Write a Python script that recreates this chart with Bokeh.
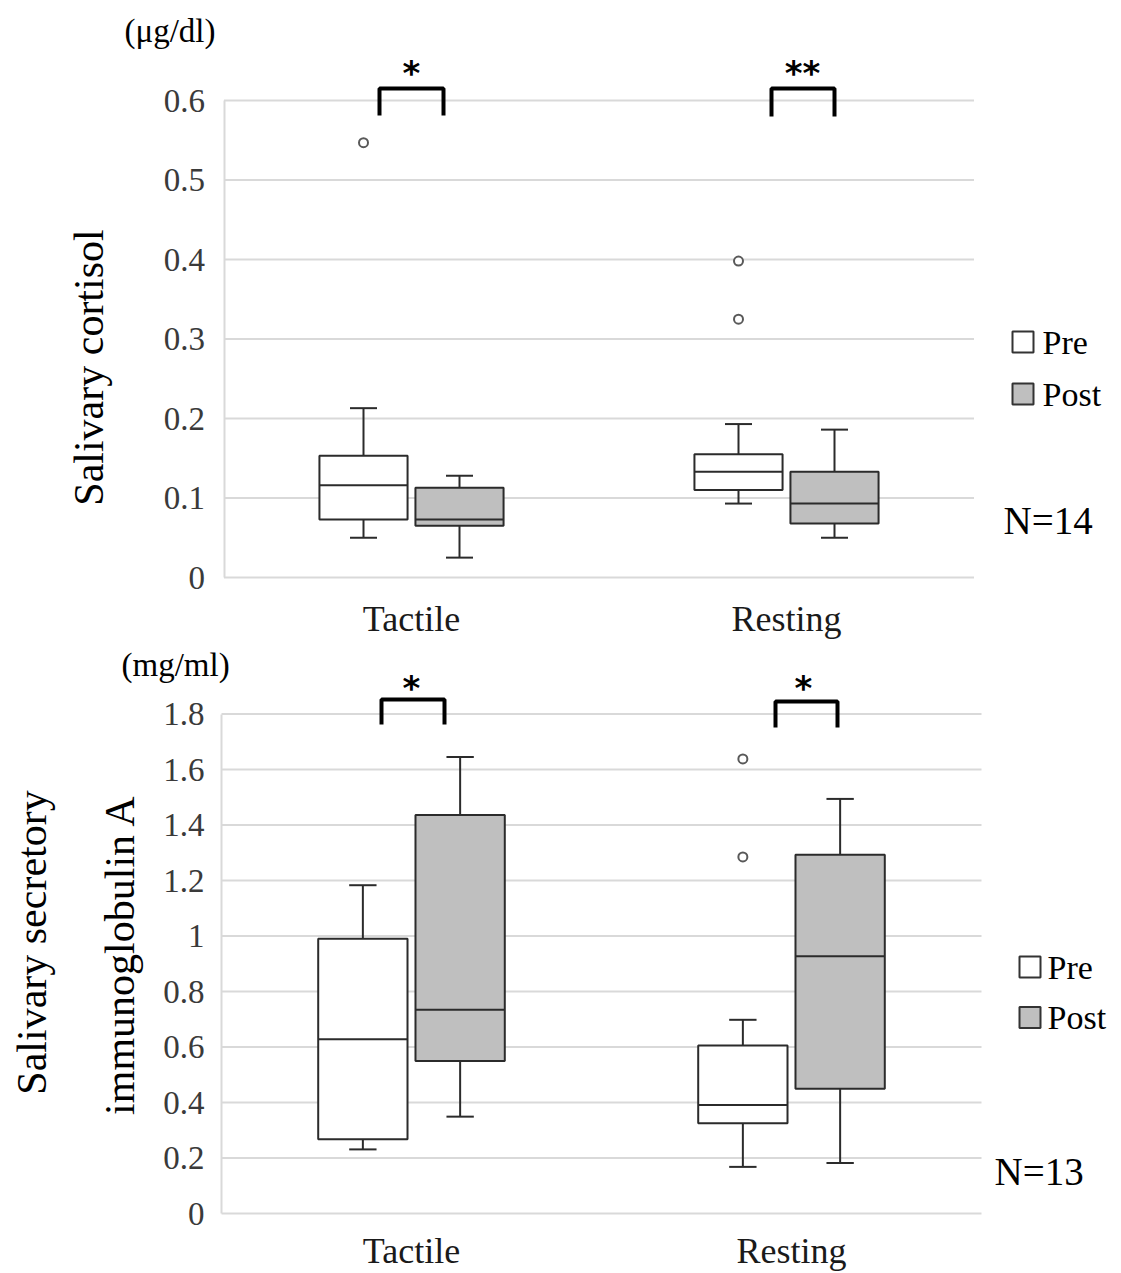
import math
from bokeh.plotting import figure
from bokeh.models import Range1d, FixedTicker
from bokeh.layouts import column
from bokeh.embed import file_html
from bokeh.resources import INLINE
from bokeh.core.properties import value

# ---------------- data ----------------
categories = ["Tactile", "Resting"]
conditions = ["Pre", "Post"]

# Salivary cortisol (µg/dl); box order: Tactile-Pre, Tactile-Post, Resting-Pre, Resting-Post
cort_whisker_low = [0.050, 0.025, 0.093, 0.050]
cort_q1 = [0.073, 0.065, 0.110, 0.068]
cort_median = [0.116, 0.073, 0.133, 0.093]
cort_q3 = [0.153, 0.113, 0.155, 0.133]
cort_whisker_high = [0.213, 0.128, 0.193, 0.186]
cort_outlier_box = [0, 2, 2]
cort_outlier_value = [0.547, 0.398, 0.325]
cort_ticks = [0, 0.1, 0.2, 0.3, 0.4, 0.5, 0.6]
cort_tick_labels = ["0", "0.1", "0.2", "0.3", "0.4", "0.5", "0.6"]
cort_significance = ["*", "**"]
cort_n = "N=14"
cort_unit = "(μg/dl)"
cort_title = ["Salivary cortisol"]

# Salivary secretory immunoglobulin A (mg/ml)
iga_whisker_low = [0.231, 0.349, 0.168, 0.182]
iga_q1 = [0.268, 0.550, 0.325, 0.450]
iga_median = [0.628, 0.734, 0.391, 0.927]
iga_q3 = [0.990, 1.436, 0.605, 1.293]
iga_whisker_high = [1.183, 1.645, 0.698, 1.494]
iga_outlier_box = [2, 2]
iga_outlier_value = [1.638, 1.285]
iga_ticks = [0, 0.2, 0.4, 0.6, 0.8, 1, 1.2, 1.4, 1.6, 1.8]
iga_tick_labels = ["0", "0.2", "0.4", "0.6", "0.8", "1", "1.2", "1.4", "1.6", "1.8"]
iga_significance = ["*", "*"]
iga_n = "N=13"
iga_unit = "(mg/ml)"
iga_title = ["Salivary secretory", "immunoglobulin A"]

# ---------------- styling ----------------
SERIF = "Liberation Serif"
FILL = {"Pre": "#ffffff", "Post": "#bfbfbf"}
EDGE = "#2b2b2b"
GRID = "#d9d9d9"
OFFSETS = [-0.128, 0.128]
BOX_W = 0.235
CAP_W = 0.072
PAGE_W = 1118


def make_panel(d, g):
    top, bottom = g["top"], g["bottom"]
    c0, upc, zero, ppu = g["cat0_x"], g["px_per_cat"], g["zero_y"], g["ppu"]

    def tx(px):
        return (px - c0) / upc + 0.5

    def ty(py):
        return (zero - py) / ppu

    p = figure(width=PAGE_W, height=bottom - top, output_backend="svg", toolbar_location=None,
               x_range=Range1d(tx(0), tx(PAGE_W)), y_range=Range1d(ty(bottom), ty(top)),
               min_border_left=0, min_border_right=0, min_border_top=0, min_border_bottom=0)
    p.outline_line_color = None
    p.grid.visible = False
    p.xaxis.visible = False
    p.background_fill_color = "white"
    p.border_fill_color = "white"

    # real value axis, drawn at the left edge of the category area
    ya = p.yaxis[0]
    ya.fixed_location = 0
    ya.ticker = FixedTicker(ticks=d["ticks"])
    ya.major_label_overrides = {t: lab for t, lab in zip(d["ticks"], d["tick_labels"])}
    ya.bounds = (d["ticks"][0], d["ticks"][-1])
    ya.axis_line_color = GRID
    ya.axis_line_width = 2
    ya.major_tick_in = 0
    ya.major_tick_out = 0
    ya.minor_tick_in = 0
    ya.minor_tick_out = 0
    ya.major_label_standoff = g["tick_standoff"]
    ya.major_label_text_font = SERIF
    ya.major_label_text_font_size = "33px"
    ya.major_label_text_color = "#3a3a3a"

    # horizontal gridlines across the category area
    n = len(d["ticks"])
    p.segment(x0=[0] * n, x1=[2] * n, y0=d["ticks"], y1=d["ticks"],
              line_color=GRID, line_width=2, level="underlay")

    xs, fills = [], []
    for ci in range(len(categories)):
        for k, cond in enumerate(conditions):
            xs.append(ci + 0.5 + OFFSETS[k])
            fills.append(FILL[cond])

    # whiskers
    p.segment(x0=xs, x1=xs, y0=d["q3"], y1=d["hi"], line_color=EDGE, line_width=2)
    p.segment(x0=xs, x1=xs, y0=d["lo"], y1=d["q1"], line_color=EDGE, line_width=2)
    p.segment(x0=[x - CAP_W / 2 for x in xs], x1=[x + CAP_W / 2 for x in xs],
              y0=d["hi"], y1=d["hi"], line_color=EDGE, line_width=2)
    p.segment(x0=[x - CAP_W / 2 for x in xs], x1=[x + CAP_W / 2 for x in xs],
              y0=d["lo"], y1=d["lo"], line_color=EDGE, line_width=2)
    # boxes
    p.quad(left=[x - BOX_W / 2 for x in xs], right=[x + BOX_W / 2 for x in xs],
           bottom=d["q1"], top=d["q3"], fill_color=fills, line_color=EDGE, line_width=2)
    p.segment(x0=[x - BOX_W / 2 for x in xs], x1=[x + BOX_W / 2 for x in xs],
              y0=d["med"], y1=d["med"], line_color=EDGE, line_width=2)
    # outliers
    p.scatter(x=[xs[b] for b in d["out_box"]], y=d["out_val"], marker="circle", size=9,
              fill_color="white", line_color="#595959", line_width=2)

    # significance brackets
    for (x0, x1, ytop, yleg, sx, sy), sig in zip(g["brackets"], d["sig"]):
        p.line(x=[tx(x0), tx(x0), tx(x1), tx(x1)], y=[ty(yleg), ty(ytop), ty(ytop), ty(yleg)],
               line_color="black", line_width=4)
        p.text(x=[tx(sx)], y=[ty(sy)], text=[sig], text_font=value("DejaVu Sans"),
               text_font_size="34px", text_font_style="bold", text_align="center",
               text_baseline="middle", text_color="black")

    # category labels
    p.text(x=[ci + 0.5 for ci in range(len(categories))], y=[ty(g["cat_y"])] * len(categories),
           text=categories, text_font=value(SERIF), text_font_size="36px",
           text_align="center", text_baseline="middle", text_color="#1a1a1a")

    # legend
    lg = g["legend"]
    p.rect(x=[tx(lg["sq_x"])] * 2, y=[ty(v) for v in lg["y"]], width=lg["sq"], height=lg["sq"],
           width_units="screen", height_units="screen",
           fill_color=[FILL[c] for c in conditions], line_color="#333333", line_width=2)
    p.text(x=[tx(lg["tx"])] * 2, y=[ty(v) for v in lg["y"]], text=conditions,
           text_font=value(SERIF), text_font_size="34px", text_align="left",
           text_baseline="middle", text_color="black")

    # sample size
    p.text(x=[tx(g["n_x"])], y=[ty(g["n_y"])], text=[d["n"]], text_font=value(SERIF),
           text_font_size="39px", text_align="left", text_baseline="middle", text_color="black")

    # unit
    p.text(x=[tx(g["unit_x"])], y=[ty(g["unit_y"])], text=[d["unit"]], text_font=value(SERIF),
           text_font_size="33px", text_align="left", text_baseline="middle", text_color="black")

    # rotated value-axis title
    p.text(x=[tx(px) for px, _ in g["title_pos"]], y=[ty(py) for _, py in g["title_pos"]],
           text=d["title"], angle=math.pi / 2, text_font=value(SERIF), text_font_size="42px",
           text_align="center", text_baseline="middle", text_color="black")
    return p


cort = dict(lo=cort_whisker_low, q1=cort_q1, med=cort_median, q3=cort_q3, hi=cort_whisker_high,
            out_box=cort_outlier_box, out_val=cort_outlier_value, ticks=cort_ticks,
            tick_labels=cort_tick_labels, sig=cort_significance, n=cort_n, unit=cort_unit,
            title=cort_title)
iga = dict(lo=iga_whisker_low, q1=iga_q1, med=iga_median, q3=iga_q3, hi=iga_whisker_high,
           out_box=iga_outlier_box, out_val=iga_outlier_value, ticks=iga_ticks,
           tick_labels=iga_tick_labels, sig=iga_significance, n=iga_n, unit=iga_unit,
           title=iga_title)

# geometry in page pixels
g_top = dict(top=0, bottom=640, cat0_x=411, px_per_cat=375.0, zero_y=577, ppu=795.0,
             tick_standoff=19,
             brackets=[(379, 443, 88, 115, 411, 72), (771, 834, 88, 116, 802, 72)],
             cat_y=618,
             legend=dict(sq_x=1022.5, y=[341.5, 393.5], sq=21, tx=1042),
             n_x=1003, n_y=520, unit_x=124, unit_y=30,
             title_pos=[(88, 367)])
g_bot = dict(top=640, bottom=1272, cat0_x=411, px_per_cat=380.0, zero_y=1213, ppu=277.5,
             tick_standoff=17,
             brackets=[(381, 444, 699, 724, 411, 687), (775, 837, 701, 727, 803, 687)],
             cat_y=1250,
             legend=dict(sq_x=1029.5, y=[966.5, 1017], sq=21, tx=1047),
             n_x=994, n_y=1170.5, unit_x=121, unit_y=664,
             title_pos=[(31, 942), (119, 954)])

p1 = make_panel(cort, g_top)
p2 = make_panel(iga, g_bot)

layout = column(p1, p2, spacing=0)

open("out.html", "w").write(file_html(layout, INLINE))
